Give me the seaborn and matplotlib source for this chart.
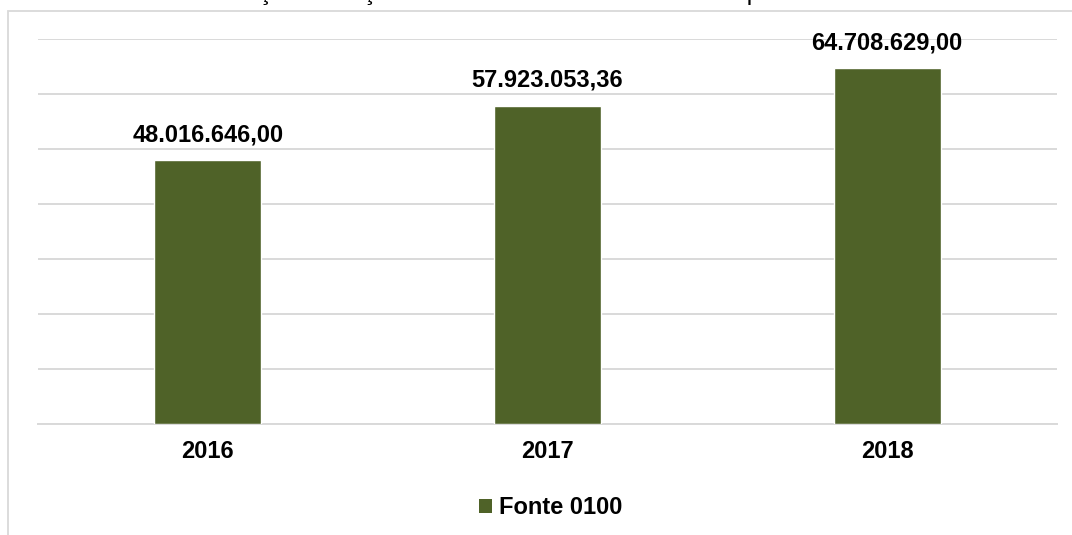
import matplotlib
matplotlib.use("Agg")
import matplotlib.pyplot as plt
from matplotlib.patches import Rectangle, Patch
import seaborn as sns
import pandas as pd

years = ["2016", "2017", "2018"]
values = [48016646.00, 57923053.36, 64708629.00]
value_labels = ["48.016.646,00", "57.923.053,36", "64.708.629,00"]
series_name = "Fonte 0100"
title = "Gráfico 1 – Evolução do orçamento da Fonte 0100 durante o período de 2016 a 2018"

sns.set_theme(style="white")
plt.rcParams["font.family"] = ["Liberation Sans", "DejaVu Sans"]
plt.rcParams["text.color"] = "black"

df = pd.DataFrame({"Ano": years, "Valor": values})
bar_color = "#4F6228"
grid_color = "#D9D9D9"

W, H = 1072, 535
fig = plt.figure(figsize=(W / 100, H / 100), dpi=100)
fig.patch.set_facecolor("white")

# chart border (partially outside the picture)
fig.patches.append(Rectangle((8 / W, -0.2), 1.5, 1.2 - 11 / H, transform=fig.transFigure,
                             fill=False, edgecolor=grid_color, linewidth=1.3))

# title, mostly cut off at the top edge (as in the reference)
fig.text(67 / W, 1 + 0.2 / H, title, ha="left", va="baseline", fontsize=18, color="black")

ax = fig.add_axes([38 / W, (H - 423.7) / H, (1057 - 38) / W, (423.7 - 39.3) / H])
sns.barplot(data=df, x="Ano", y="Valor", color=bar_color, width=0.315, ax=ax,
            saturation=1, zorder=3)

ax.set_ylim(0, 70_000_000)
ax.set_yticks(range(0, 70_000_001, 10_000_000))
ax.yaxis.grid(True, color=grid_color, linewidth=1.4, zorder=0)
ax.set_yticklabels([])
ax.tick_params(axis="y", length=0)
ax.tick_params(axis="x", length=0, pad=12)
for lbl in ax.get_xticklabels():
    lbl.set_fontsize(17)
    lbl.set_fontweight("bold")
    lbl.set_color("black")
ax.set_xlabel("")
ax.set_ylabel("")
for s in ["left", "right", "top"]:
    ax.spines[s].set_visible(False)
ax.spines["bottom"].set_color(grid_color)
ax.spines["bottom"].set_linewidth(1.4)
ax.set_facecolor("none")

for i, (v, t) in enumerate(zip(values, value_labels)):
    ax.annotate(t, (i, v), xytext=(0, 10), textcoords="offset points",
                ha="center", va="bottom", fontsize=17, fontweight="bold", color="black")

handles = [Patch(facecolor=bar_color, edgecolor="none", label=series_name)]
leg = fig.legend(handles=handles, loc="center", bbox_to_anchor=(551 / W, (H - 508) / H),
                 frameon=False, prop={"size": 17, "weight": "bold"}, handlelength=0.55,
                 handleheight=0.55, handletextpad=0.3)
for t in leg.get_texts():
    t.set_color("black")

fig.savefig("out.png", dpi=100, facecolor="white")
